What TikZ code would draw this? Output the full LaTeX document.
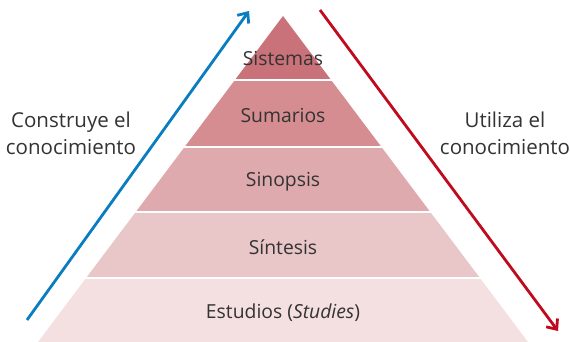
\documentclass[tikz,border=0pt]{standalone}
\usepackage{fontspec}
\setmainfont{Open Sans}
\usetikzlibrary{arrows.meta}
\definecolor{capaA}{RGB}{202,114,121}
\definecolor{capaB}{RGB}{213,141,146}
\definecolor{capaC}{RGB}{222,170,173}
\definecolor{capaD}{RGB}{233,198,200}
\definecolor{capaE}{RGB}{244,224,225}
\definecolor{azul}{RGB}{10,124,192}
\definecolor{rojo}{RGB}{192,10,30}
\definecolor{texto}{RGB}{51,51,51}
\tikzset{
  etiqueta/.style={text=texto, font=\fontsize{16.5}{20}\selectfont, inner sep=0pt},
  lateral/.style={text=texto, font=\fontsize{17.5}{23}\selectfont, align=center, inner sep=0pt},
  flecha/.style={line width=2.4pt, -{Straight Barb[length=7pt, width=12pt, line width=2.4pt]}}
}

\begin{document}
\begin{tikzpicture}[x=0.03cm, y=-0.03cm]
\useasboundingbox (0,0) rectangle (570,342);
\foreach \t/\b/\c/\l/\y [count=\i] in {16/80/capaA/Sistemas/59, 80/147/capaB/Sumarios/116, 147/212/capaC/Sinopsis/182, 212/278/capaD/S\'intesis/247, 278/342/capaE/{Estudios (\textit{Studies})}/313}{
  \pgfmathsetmacro{\wt}{(\t-16)*0.7515}
  \pgfmathsetmacro{\wb}{(\b-16)*0.7515}
  \fill[\c] (283-\wt,\t) -- (283+\wt,\t) -- (283+\wb,\b) -- (283-\wb,\b) -- cycle;
  \node[etiqueta] (capa\i) at (283,\y) {\l};
}
\foreach \y in {80, 147, 212, 278}
  \draw[white, line width=1.7pt] (30,\y) -- (540,\y);
\coordinate (bini) at (27,320);
\coordinate (bfin) at (249,11);
\coordinate (rini) at (320,10);
\coordinate (rfin) at (558,331);
\draw[flecha, azul] (bini) -- (bfin);
\draw[flecha, rojo] (rini) -- (rfin);
\node[lateral] (construye) at (71,133) {Construye el\\conocimiento};
\node[lateral] (utiliza) at (505,133) {Utiliza el\\conocimiento};
\end{tikzpicture}
\end{document}
